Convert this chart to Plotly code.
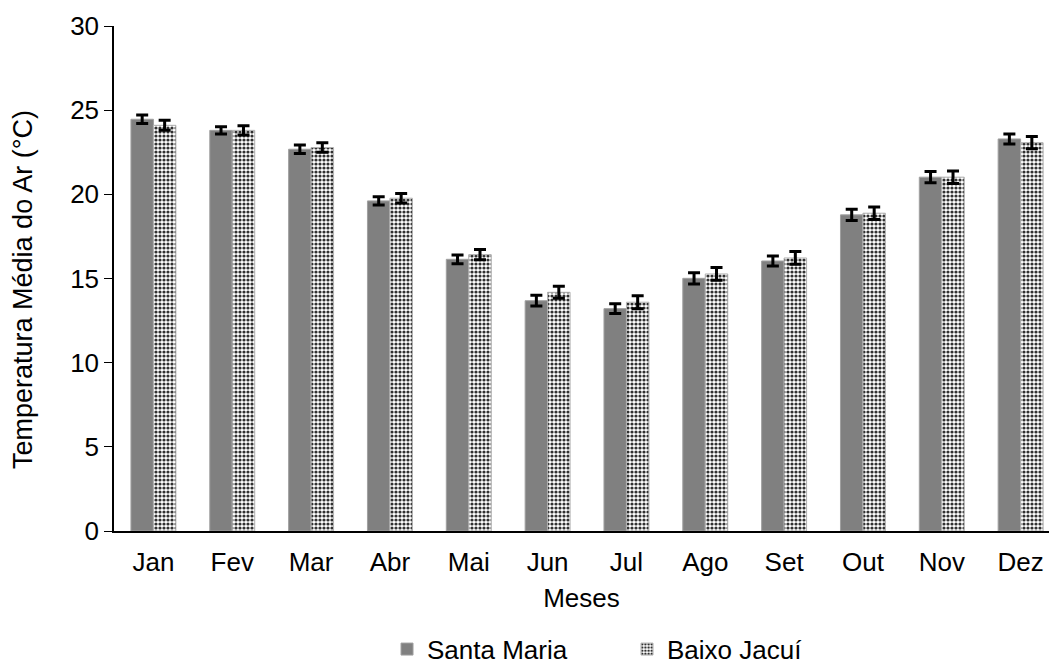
import plotly.graph_objects as go

meses = ["Jan", "Fev", "Mar", "Abr", "Mai", "Jun", "Jul", "Ago", "Set", "Out", "Nov", "Dez"]
santa_maria = [24.46, 23.80, 22.68, 19.61, 16.14, 13.68, 13.21, 15.01, 16.04, 18.78, 21.02, 23.29]
santa_maria_err = [0.25, 0.22, 0.25, 0.24, 0.26, 0.32, 0.29, 0.33, 0.30, 0.34, 0.33, 0.30]
baixo_jacui = [24.10, 23.80, 22.78, 19.77, 16.42, 14.18, 13.59, 15.27, 16.22, 18.88, 21.02, 23.07]
baixo_jacui_err = [0.30, 0.28, 0.28, 0.28, 0.30, 0.36, 0.39, 0.38, 0.38, 0.37, 0.37, 0.36]

font_family = "Liberation Sans, Arial, sans-serif"

err_style = dict(type="data", visible=True, color="black", thickness=3, width=6)

fig = go.Figure()
fig.add_trace(go.Bar(
    name="Santa Maria", x=meses, y=santa_maria,
    error_y=dict(array=santa_maria_err, **err_style),
    marker=dict(color="#808080", line=dict(color="#a0a0a0", width=1)),
))
fig.add_trace(go.Bar(
    name="Baixo Jacuí", x=meses, y=baixo_jacui,
    error_y=dict(array=baixo_jacui_err, **err_style),
    marker=dict(
        color="white",
        line=dict(color="#b0b0b0", width=1),
        pattern=dict(shape=".", fgcolor="#303030", bgcolor="white",
                     size=4, solidity=0.5, fillmode="replace"),
    ),
))

fig.update_layout(
    width=1049, height=664,
    margin=dict(l=114, r=0, t=26, b=133, autoexpand=False),
    paper_bgcolor="white", plot_bgcolor="white",
    barmode="group", bargap=0.43, bargroupgap=0,
    font=dict(family=font_family, size=26, color="black"),
    showlegend=True,
    legend=dict(orientation="h", x=0.292, xanchor="left", y=-0.234, yanchor="middle",
                font=dict(size=26), itemwidth=30, tracegroupgap=0,
                entrywidthmode="pixels", entrywidth=195),
    annotations=[dict(
        text="Temperatura Média do Ar (°C)", textangle=-90,
        xref="paper", yref="paper",
        x=(23 - 114) / 935, y=(531 - 290) / 505,
        xanchor="center", yanchor="middle", showarrow=False,
        font=dict(size=27),
    )],
)
fig.update_xaxes(
    range=[-0.5, 11.36], showline=True, linecolor="black", linewidth=1.5,
    ticks="", showgrid=False, tickfont=dict(size=26), ticklabelstandoff=7,
    title=dict(text="Meses", font=dict(size=26), standoff=13),
)
fig.update_yaxes(
    range=[0, 30], dtick=5, showline=True, linecolor="black", linewidth=1.5,
    ticks="outside", ticklen=8, tickcolor="black", showgrid=False, zeroline=False,
    tickfont=dict(size=26),
)

fig.write_html("out.html")
